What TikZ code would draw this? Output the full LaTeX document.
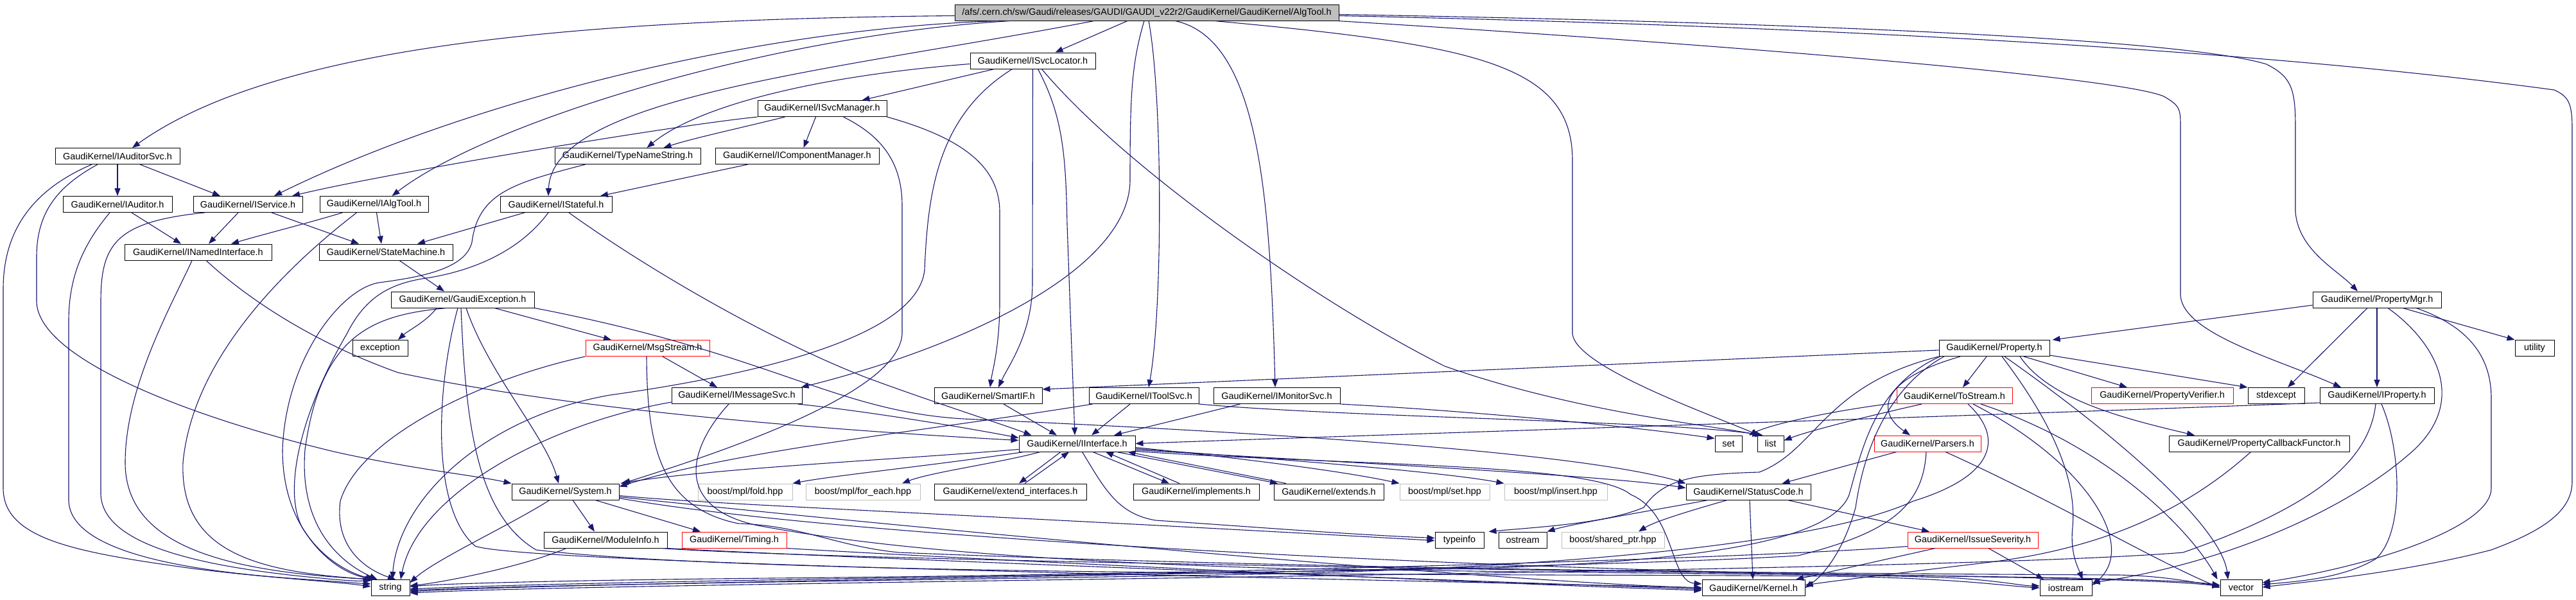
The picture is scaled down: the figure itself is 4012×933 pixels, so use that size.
\documentclass[tikz,border=0pt]{standalone}
\usepackage{fontspec}
\setmainfont{Liberation Sans}
\usetikzlibrary{arrows.meta,calc}
\definecolor{edgec}{HTML}{191970}
\definecolor{rootfill}{HTML}{BFBFBF}
\definecolor{boostc}{HTML}{BFBFBF}
\definecolor{redc}{HTML}{FF0000}
\begin{document}
\begin{tikzpicture}[x=0.5pt,y=-0.5pt,
  bx/.style={draw=black, line width=0.5pt, minimum height=12.5pt, inner sep=0pt, font=\fontsize{7.2pt}{8.6pt}\selectfont, text=black},
  rbx/.style={bx, draw=redc},
  gbx/.style={bx, draw=boostc},
  ed/.style={draw=edgec, line width=0.55pt, -{Triangle[length=6pt,width=4.5pt]}},
]
\useasboundingbox (0,0) rectangle (4012,933);
\fill[white] (0,0) rectangle (4012,933);

% ---------------- nodes ----------------
\node[bx,fill=rootfill,minimum width=299pt] (root) at (1786,19.5) {/afs/.cern.ch/sw/Gaudi/releases/GAUDI/GAUDI\_v22r2/GaudiKernel/GaudiKernel/AlgTool.h};
\node[bx,minimum width=97.5pt] (ISvcLocator) at (1608.5,94.5) {GaudiKernel/ISvcLocator.h};
\node[bx,minimum width=100.5pt] (ISvcManager) at (1280.5,169) {GaudiKernel/ISvcManager.h};
\node[bx,minimum width=97pt] (IAuditorSvc) at (183,243) {GaudiKernel/IAuditorSvc.h};
\node[bx,minimum width=113.5pt] (TypeNameString) at (977.5,243) {GaudiKernel/TypeNameString.h};
\node[bx,minimum width=127.5pt] (IComponentManager) at (1241.5,243) {GaudiKernel/IComponentManager.h};
\node[bx,minimum width=85pt] (IAuditor) at (183,318) {GaudiKernel/IAuditor.h};
\node[bx,minimum width=85pt] (IService) at (386,318) {GaudiKernel/IService.h};
\node[bx,minimum width=84.5pt] (IAlgTool) at (582.5,318) {GaudiKernel/IAlgTool.h};
\node[bx,minimum width=87pt] (IStateful) at (866,318) {GaudiKernel/IStateful.h};
\node[bx,minimum width=114.5pt] (INamedInterface) at (308.5,392.5) {GaudiKernel/INamedInterface.h};
\node[bx,minimum width=104pt] (StateMachine) at (601,392.5) {GaudiKernel/StateMachine.h};
\node[bx,minimum width=111.5pt] (GaudiException) at (720.5,466.5) {GaudiKernel/GaudiException.h};
\node[bx,minimum width=100pt] (PropertyMgr) at (3702,466.5) {GaudiKernel/PropertyMgr.h};
\node[bx,minimum width=43pt] (exception) at (592,542) {exception};
\node[rbx,minimum width=96.5pt] (MsgStream) at (1008.5,542) {GaudiKernel/MsgStream.h};
\node[bx,minimum width=86pt] (Property) at (3106,542) {GaudiKernel/Property.h};
\node[bx,minimum width=30.5pt] (utility) at (3947.5,542) {utility};
\node[bx,minimum width=101.5pt] (IMessageSvc) at (1147.5,616) {GaudiKernel/IMessageSvc.h};
\node[bx,minimum width=84pt] (SmartIF) at (1539,616) {GaudiKernel/SmartIF.h};
\node[bx,minimum width=85.5pt] (IToolSvc) at (1781.5,616) {GaudiKernel/IToolSvc.h};
\node[bx,minimum width=98.5pt] (IMonitorSvc) at (1988.5,616) {GaudiKernel/IMonitorSvc.h};
\node[rbx,minimum width=90pt] (ToStream) at (3044,616) {GaudiKernel/ToStream.h};
\node[rbx,minimum width=110.5pt] (PropertyVerifier) at (3367.5,616) {GaudiKernel/PropertyVerifier.h};
\node[bx,minimum width=44pt] (stdexcept) at (3545,616) {stdexcept};
\node[bx,minimum width=89pt] (IProperty) at (3702,616) {GaudiKernel/IProperty.h};
\node[bx,minimum width=90.5pt] (IInterface) at (1677.5,690.5) {GaudiKernel/IInterface.h};
\node[bx,minimum width=21pt] (set) at (2692,690.5) {set};
\node[bx,minimum width=20.5pt] (list) at (2757.5,690.5) {list};
\node[rbx,minimum width=83pt] (Parsers) at (3002,690.5) {GaudiKernel/Parsers.h};
\node[bx,minimum width=140.5pt] (PCF) at (3518.5,690.5) {GaudiKernel/PropertyCallbackFunctor.h};
\node[bx,minimum width=83.5pt] (System) at (880.5,765.5) {GaudiKernel/System.h};
\node[gbx,minimum width=73.5pt] (fold) at (1160.5,765.5) {boost/mpl/fold.hpp};
\node[gbx,minimum width=89pt] (forEach) at (1344,765.5) {boost/mpl/for\_each.hpp};
\node[bx,minimum width=118.5pt] (extIf) at (1573.5,765.5) {GaudiKernel/extend\_interfaces.h};
\node[bx,minimum width=98pt] (implements) at (1863,765.5) {GaudiKernel/implements.h};
\node[bx,minimum width=85.5pt] (extends) at (2069.5,765.5) {GaudiKernel/extends.h};
\node[gbx,minimum width=70pt] (setHpp) at (2250,765.5) {boost/mpl/set.hpp};
\node[gbx,minimum width=80pt] (insert) at (2423,765.5) {boost/mpl/insert.hpp};
\node[bx,minimum width=97pt] (StatusCode) at (2723,765.5) {GaudiKernel/StatusCode.h};
\node[bx,minimum width=96pt] (ModuleInfo) at (943,840.5) {GaudiKernel/ModuleInfo.h};
\node[rbx,minimum width=81.5pt] (Timing) at (1143.5,840.5) {GaudiKernel/Timing.h};
\node[bx,minimum width=38pt] (typeinfo) at (2273,840.5) {typeinfo};
\node[bx,minimum width=37.5pt] (ostream) at (2371.5,840.5) {ostream};
\node[gbx,minimum width=80pt] (shptr) at (2512,840.5) {boost/shared\_ptr.hpp};
\node[rbx,minimum width=101.5pt] (IssueSeverity) at (3072.5,840.5) {GaudiKernel/IssueSeverity.h};
\node[bx,minimum width=30pt] (string) at (608,915) {string};
\node[bx,minimum width=80pt] (Kernel) at (2731,915) {GaudiKernel/Kernel.h};
\node[bx,minimum width=40.5pt] (iostream) at (3217.5,915) {iostream};
\node[bx,minimum width=32.5pt] (vector) at (3490.5,915) {vector};

% ---------------- root ----------------
\draw[ed] ($(root.west)+(0,5)$) .. controls (900,30) and (430,70) .. ($(IAuditorSvc.north)+(23,0)$);
\draw[ed] ($(root.south)+(-229,0)$) .. controls (1150,45) and (700,170) .. ($(IService.north)+(41,0)$);
\draw[ed] ($(root.south)+(-212,0)$) .. controls (1200,55) and (760,190) .. ($(IAlgTool.north)+(28,0)$);
\draw[ed] ($(root.south)+(-82,0)$) .. controls (1300,110) and (860,150) .. ($(IStateful.north)+(-12,0)$);
\draw[ed] ($(root.south)+(-30,0)$) -- ($(ISvcLocator.north)+(35,0)$);
\draw[ed] ($(root.south)+(-4,0)$) .. controls (1762,100) and (1760,150) .. (1760,280) .. controls (1760,420) and (1500,540) .. ($(IMessageSvc.north east)+(-2,0)$);
\draw[ed] ($(root.south)+(3,0)$) .. controls (1811,150) and (1811,480) .. ($(IToolSvc.north)+(7.5,0)$);
\draw[ed] ($(root.south)+(44,0)$) .. controls (1960,60) and (1978,300) .. ($(IMonitorSvc.north)+(-2.5,0)$);
\draw[ed] ($(root.south)+(105,0)$) .. controls (2300,70) and (2449,100) .. (2449,250) -- (2449,520) .. controls (2455,570) and (2650,640) .. ($(list.north)+(-18,0)$);
\draw[ed] ($(root.south east)+(-3,0)$) .. controls (2700,70) and (3300,120) .. (3370,150) .. controls (3396,165) and (3396,170) .. (3396,200) -- (3396,460) .. controls (3400,520) and (3550,560) .. ($(IProperty.north)+(-56,0)$);
\draw[ed] ($(root.east)+(0,3)$) .. controls (2800,35) and (3400,60) .. (3530,100) .. controls (3570,120) and (3575,140) .. (3575,200) -- (3575,330) .. controls (3580,390) and (3640,420) .. ($(PropertyMgr.north)+(-30,0)$);
\draw[ed] ($(root.east)+(0,5)$) .. controls (2800,40) and (3500,75) .. (3978,140) .. controls (4000,150) and (4006,160) .. (4006,200) -- (4006,750) .. controls (4006,800) and (3950,830) .. (3880,856) .. controls (3750,890) and (3600,905) .. ($(vector.east)+(0,-1)$);

% ---------------- ISvcLocator ----------------
\draw[ed] ($(ISvcLocator.south)+(-60,0)$) -- ($(ISvcManager.north east)+(-39,0)$);
\draw[ed] ($(ISvcLocator.west)+(0,5)$) .. controls (1250,120) and (1080,170) .. ($(TypeNameString.north)+(30,0)$);
\draw[ed] ($(ISvcLocator.south)+(-32,0)$) .. controls (1460,180) and (1445,300) .. (1440,420) .. controls (1430,520) and (1200,580) .. (950,615) .. controls (750,650) and (620,780) .. ($(string.north)+(3,0)$);
\draw[ed] (ISvcLocator.south) -- (1608,440) .. controls (1608,520) and (1570,570) .. ($(SmartIF.north)+(16,0)$);
\draw[ed] ($(ISvcLocator.south)+(8,0)$) .. controls (1655,180) and (1660,240) .. (1662,350) -- ($(IInterface.north)+(-3.5,0)$);
\draw[ed] ($(ISvcLocator.south)+(14,0)$) .. controls (1750,260) and (2050,470) .. (2250,570) .. controls (2450,640) and (2650,660) .. ($(list.north)+(-16,0)$);

% ---------------- ISvcManager ----------------
\draw[ed] (ISvcManager.south west) .. controls (1050,195) and (600,270) .. ($(IService.north)+(69,0)$);
\draw[ed] ($(ISvcManager.south)+(-58,0)$) .. controls (1150,200) and (1080,215) .. ($(TypeNameString.north)+(56,0)$);
\draw[ed] ($(ISvcManager.south)+(-10,0)$) -- ($(IComponentManager.north)+(10,0)$);
\draw[ed] ($(ISvcManager.south)+(33,0)$) .. controls (1370,210) and (1405,250) .. (1405,320) -- (1405,520) .. controls (1400,600) and (1200,680) .. ($(System.north east)+(5,0)$);
\draw[ed] (ISvcManager.south east) .. controls (1500,215) and (1557,260) .. (1557,330) -- (1557,470) .. controls (1557,540) and (1545,580) .. ($(SmartIF.north)+(3,0)$);
\draw[ed] ($(IComponentManager.south)+(-77,0)$) -- ($(IStateful.north)+(69,0)$);

% ---------------- TypeNameString / IStateful ----------------
\draw[ed] ($(TypeNameString.south)+(-66,0)$) .. controls (800,285) and (745,300) .. (735,377) .. controls (725,420) and (650,432) .. (590,440) .. controls (530,450) and (445,560) .. (440,700) .. controls (440,830) and (520,885) .. ($(string.north west)+(4,0)$);
\draw[ed] ($(IStateful.south)+(-12,0)$) .. controls (810,390) and (740,420) .. (670,432) .. controls (610,440) and (570,460) .. (540,520) .. controls (470,640) and (440,760) .. (470,820) .. controls (500,870) and (540,895) .. ($(string.north west)+(8,0)$);
\draw[ed] ($(IStateful.south)+(-49,0)$) -- ($(StateMachine.north)+(49,0)$);
\draw[ed] ($(IStateful.south)+(20,0)$) .. controls (1010,420) and (1200,530) .. (1350,588) .. controls (1450,625) and (1560,660) .. ($(IInterface.north west)+(20,0)$);

% ---------------- IAuditorSvc / IAuditor / IService / IAlgTool ----------------
\draw[ed] (IAuditorSvc) -- (IAuditor);
\draw[ed] ($(IAuditorSvc.south)+(35,0)$) -- ($(IService.north)+(-43,0)$);
\draw[ed] ($(IAuditorSvc.south)+(-40,0)$) .. controls (40,300) and (5,370) .. (5,450) -- (5,760) .. controls (5,840) and (120,860) .. (300,885) .. controls (420,900) and (520,905) .. ($(string.west)+(0,-2)$);
\draw[ed] ($(IAuditorSvc.south)+(-31,0)$) .. controls (90,290) and (57,330) .. (57,400) -- (57,470) .. controls (60,560) and (300,650) .. (520,703) .. controls (640,730) and (740,740) .. (System.north west);
\draw[ed] ($(IAuditor.south)+(22,0)$) -- ($(INamedInterface.north)+(-26.5,0)$);
\draw[ed] ($(IAuditor.south)+(-12,0)$) .. controls (130,380) and (107,430) .. (107,500) -- (107,780) .. controls (110,850) and (250,885) .. (450,900) .. controls (520,905) and (560,908) .. ($(string.west)+(0,-6)$);
\draw[ed] ($(IService.south)+(-15,0)$) -- ($(INamedInterface.north)+(16.5,0)$);
\draw[ed] ($(IService.south)+(37,0)$) -- ($(StateMachine.north)+(-42,0)$);
\draw[ed] ($(IService.south)+(-67,0)$) .. controls (180,345) and (157,380) .. (157,470) -- (157,770) .. controls (160,840) and (280,880) .. (500,900) .. controls (540,904) and (560,905) .. (string.north west);
\draw[ed] ($(IAlgTool.south)+(-49,0)$) .. controls (470,350) and (420,362) .. ($(INamedInterface.north)+(51.5,0)$);
\draw[ed] ($(IAlgTool.south)+(4,0)$) -- ($(StateMachine.north)+(-7,0)$);
\draw[ed] ($(IAlgTool.south)+(-27,0)$) .. controls (440,420) and (300,560) .. (285,720) .. controls (280,860) and (400,890) .. ($(string.north west)+(2,0)$);

% ---------------- INamedInterface / StateMachine ----------------
\draw[ed] ($(INamedInterface.south)+(-9.5,0)$) .. controls (270,470) and (195,600) .. (195,720) .. controls (195,850) and (350,890) .. ($(string.north west)+(6,0)$);
\draw[ed] ($(INamedInterface.south)+(12.5,0)$) .. controls (380,460) and (480,530) .. (620,580) .. controls (900,640) and (1300,670) .. ($(IInterface.west)+(0,-5)$);
\draw[ed] ($(StateMachine.south)+(21,0)$) -- ($(GaudiException.north)+(-28.5,0)$);

% ---------------- GaudiException ----------------
\draw[ed] ($(GaudiException.south)+(-40.5,0)$) .. controls (665,500) and (635,515) .. ($(exception.north)+(28,0)$);
\draw[ed] ($(GaudiException.south)+(49.5,0)$) -- ($(MsgStream.north)+(-56.5,0)$);
\draw[ed] ($(GaudiException.south)+(5.5,0)$) .. controls (760,580) and (850,680) .. ($(System.north)+(-10.5,0)$);
\draw[ed] ($(GaudiException.south)+(-24.5,0)$) .. controls (580,490) and (500,520) .. (475,700) .. controls (465,830) and (540,880) .. ($(string.north west)+(10,0)$);
\draw[ed] ($(GaudiException.south)+(-7.5,0)$) .. controls (680,600) and (670,790) .. (740,850) .. controls (820,880) and (2300,905) .. (Kernel.west);
\draw[ed] ($(GaudiException.south)+(-2.5,0)$) .. controls (725,650) and (740,800) .. (835,856) .. controls (1200,900) and (2500,893) .. (2850,897) .. controls (3050,900) and (3120,912) .. (iostream.west);
\draw[ed] (GaudiException.south east) .. controls (1200,550) and (1300,640) .. (1500,652) .. controls (1900,670) and (2450,700) .. (StatusCode.north west);

% ---------------- MsgStream / IMessageSvc ----------------
\draw[ed] ($(MsgStream.south)+(23.5,0)$) -- ($(IMessageSvc.north)+(-30.5,0)$);
\draw[ed] (MsgStream.south west) .. controls (750,590) and (560,680) .. (530,780) .. controls (520,860) and (580,890) .. ($(string.north)+(8,0)$);
\draw[ed] ($(MsgStream.south)+(-1.5,0)$) .. controls (1008,700) and (1030,790) .. (1150,815) .. controls (1250,818) and (1300,850) .. (1400,860) .. controls (2000,885) and (2800,893) .. (3300,895) .. controls (3380,897) and (3420,908) .. ($(vector.west)+(0,-4)$);
\draw[ed] ($(IMessageSvc.south east)+(-7,0)$) .. controls (1350,640) and (1500,665) .. ($(IInterface.west)+(0,-9)$);
\draw[ed] ($(IMessageSvc.south west)+(0,-3)$) .. controls (850,660) and (650,770) .. ($(string.north)+(16,0)$);
\draw[ed] ($(IMessageSvc.south)+(-12.5,0)$) .. controls (1070,700) and (1050,790) .. (1180,818) .. controls (1300,840) and (1500,870) .. (2000,885) .. controls (2500,893) and (2900,893) .. (3050,900) .. controls (3120,905) and (3150,912) .. ($(iostream.west)+(0,-3)$);

% ---------------- SmartIF / IToolSvc / IMonitorSvc ----------------
\draw[ed] ($(SmartIF.south)+(24,0)$) -- ($(IInterface.north)+(-31.5,0)$);
\draw[ed] ($(IToolSvc.south)+(-21.5,0)$) -- ($(IInterface.north)+(22.5,0)$);
\draw[ed] ($(IToolSvc.south west)+(6,0)$) .. controls (1450,670) and (1150,700) .. ($(System.east)+(0,-8)$);
\draw[ed] (IToolSvc.south east) .. controls (2100,650) and (2600,655) .. ($(list.north)+(-12,0)$);
\draw[ed] ($(IMonitorSvc.south west)+(42,0)$) -- ($(IInterface.north)+(57.5,0)$);
\draw[ed] (IMonitorSvc.south east) .. controls (2300,640) and (2550,665) .. ($(set.west)+(0,-8)$);

% ---------------- IInterface ----------------
\draw[ed] ($(IInterface.south west)+(0,-4)$) .. controls (1400,715) and (1100,730) .. ($(System.north east)+(2,0)$);
\draw[ed] ($(IInterface.south west)+(8,0)$) .. controls (1450,725) and (1300,740) .. (fold.north east);
\draw[ed] ($(IInterface.south)+(-57.5,0)$) .. controls (1560,720) and (1450,735) .. ($(forEach.north)+(61,0)$);
\draw[ed] ($(IInterface.south)+(-25.5,0)$) -- ($(extIf.north)+(13.5,0)$);
\draw[ed] ($(extIf.north)+(22.5,0)$) -- ($(IInterface.south)+(-12.5,0)$);
\draw[ed] ($(IInterface.south)+(24.5,0)$) -- ($(implements.north)+(-42,0)$);
\draw[ed] ($(implements.north)+(-26,0)$) -- ($(IInterface.south)+(44.5,0)$);
\draw[ed] ($(IInterface.south)+(61.5,0)$) -- ($(extends.north)+(-79.5,0)$);
\draw[ed] ($(extends.north)+(-66.5,0)$) -- ($(IInterface.south east)+(-12,0)$);
\draw[ed] ($(IInterface.east)+(0,6)$) .. controls (1950,715) and (2100,735) .. (setHpp.north west);
\draw[ed] ($(IInterface.east)+(0,8)$) .. controls (2000,715) and (2250,735) .. (insert.north west);
\draw[ed] ($(IInterface.east)+(0,10)$) .. controls (2100,720) and (2500,740) .. ($(StatusCode.west)+(0,-6)$);
\draw[ed] ($(IInterface.south)+(8,0)$) .. controls (1720,760) and (1740,800) .. (1800,810) .. controls (1950,820) and (2100,832) .. ($(typeinfo.west)+(0,-3)$);
\draw[ed] ($(IInterface.east)+(0,12)$) .. controls (2100,725) and (2480,720) .. (2540,770) .. controls (2610,800) and (2600,905) .. ($(Kernel.west)+(0,-6)$);

% ---------------- StatusCode / IssueSeverity ----------------
\draw[ed] ($(StatusCode.south)+(-63,0)$) .. controls (2600,790) and (2450,815) .. (ostream.north east);
\draw[ed] ($(StatusCode.south)+(-33,0)$) .. controls (2650,790) and (2580,810) .. ($(shptr.north)+(40,0)$);
\draw[ed] ($(StatusCode.south)+(2,0)$) -- ($(Kernel.north)+(-1,0)$);
\draw[ed] ($(StatusCode.south)+(61,0)$) -- ($(IssueSeverity.north)+(-67.5,0)$);
\draw[ed] ($(IssueSeverity.south)+(-58.5,0)$) -- ($(Kernel.north)+(66,0)$);
\draw[ed] ($(IssueSeverity.south)+(24.5,0)$) -- ($(iostream.north)+(-34.5,0)$);
\draw[ed] ($(IssueSeverity.west)+(0,10)$) .. controls (2800,865) and (2000,893) .. (1200,900) .. controls (900,903) and (700,908) .. ($(string.east)+(0,-2)$);

% ---------------- System / ModuleInfo / Timing ----------------
\draw[ed] ($(System.south)+(11.5,0)$) -- ($(ModuleInfo.north)+(-17,0)$);
\draw[ed] ($(System.south)+(46.5,0)$) -- ($(Timing.north)+(-52.5,0)$);
\draw[ed] ($(System.south)+(-24.5,0)$) .. controls (790,820) and (680,870) .. ($(string.east)+(0,-8)$);
\draw[ed] ($(System.east)+(0,6)$) .. controls (1100,785) and (1500,800) .. ($(typeinfo.west)+(0,1)$);
\draw[ed] ($(System.east)+(0,8)$) .. controls (1300,810) and (2300,905) .. (Kernel.west);
\draw[ed] ($(System.east)+(0,10)$) .. controls (1300,835) and (2200,880) .. (2800,893) .. controls (3100,898) and (3380,900) .. ($(vector.west)+(0,-4)$);
\draw[ed] ($(ModuleInfo.south)+(-61,0)$) .. controls (820,880) and (700,905) .. ($(string.east)+(0,-3)$);
\draw[ed] (ModuleInfo.south east) .. controls (1300,868) and (2300,905) .. ($(Kernel.west)+(0,2)$);
\draw[ed] ($(ModuleInfo.south east)+(-10,0)$) .. controls (1300,872) and (2400,888) .. (2800,893) .. controls (3100,898) and (3380,902) .. ($(vector.west)+(0,-2)$);
\draw[ed] (Timing.south east) .. controls (1500,870) and (2300,908) .. ($(Kernel.west)+(0,4)$);

% ---------------- Property ----------------
\draw[ed] ($(Property.west)+(0,3)$) -- ($(SmartIF.east)+(0,-10)$);
\draw[ed] (Property.south west) .. controls (2840,600) and (2830,700) .. (2740,735) .. controls (2640,738) and (2590,745) .. (2560,790) .. controls (2500,815) and (2400,820) .. ($(typeinfo.north east)+(7,0)$);
\draw[ed] ($(Property.south)+(-53,0)$) .. controls (2930,590) and (2920,640) .. ($(Parsers.north)+(-27,0)$);
\draw[ed] ($(Property.south)+(-12,0)$) -- ($(ToStream.north)+(13,0)$);
\draw[ed] ($(Property.south)+(46,0)$) -- ($(PropertyVerifier.north)+(-54.5,0)$);
\draw[ed] ($(Property.south east)+(0,-2)$) -- (stdexcept.north west);
\draw[ed] ($(Property.south)+(40,0)$) .. controls (3190,620) and (3300,650) .. ($(PCF.north)+(-100.5,0)$);
\draw[ed] ($(Property.south)+(12,0)$) .. controls (3190,650) and (3235,740) .. (3228,820) .. controls (3224,860) and (3235,880) .. ($(iostream.north)+(26,0)$);
\draw[ed] ($(Property.south)+(16,0)$) .. controls (3300,680) and (3460,820) .. ($(vector.north)+(-20.5,0)$);
\draw[ed] ($(Property.south west)+(2,0)$) .. controls (2920,600) and (2900,700) .. (2880,770) .. controls (2850,850) and (2600,875) .. (2300,885) .. controls (1600,897) and (900,905) .. ($(string.east)+(0,2)$);
\draw[ed] ($(Property.south west)+(8,0)$) .. controls (2930,610) and (2900,720) .. (2890,790) .. controls (2870,860) and (2840,895) .. (Kernel.east);

% ---------------- ToStream / Parsers ----------------
\draw[ed] ($(ToStream.south west)+(0,-2)$) .. controls (2850,640) and (2760,660) .. ($(set.north east)+(10,0)$);
\draw[ed] ($(ToStream.south)+(-51,0)$) .. controls (2900,650) and (2820,670) .. ($(list.east)+(0,-5)$);
\draw[ed] ($(ToStream.south)+(21,0)$) .. controls (3120,680) and (3110,740) .. (2980,780) .. controls (2850,840) and (2500,880) .. (2000,893) .. controls (1500,903) and (900,908) .. ($(string.east)+(0,4)$);
\draw[ed] ($(ToStream.south)+(29,0)$) .. controls (3250,720) and (3330,850) .. ($(iostream.east)+(0,-4)$);
\draw[ed] ($(ToStream.south)+(41,0)$) .. controls (3300,700) and (3420,840) .. ($(vector.north)+(-37,0)$);
\draw[ed] ($(Parsers.south west)+(35,0)$) -- ($(StatusCode.north east)+(-45,0)$);
\draw[ed] ($(Parsers.south)+(-2,0)$) .. controls (2995,790) and (2940,830) .. (2800,865) .. controls (2400,890) and (900,905) .. ($(string.east)+(0,6)$);
\draw[ed] ($(Parsers.south)+(28,0)$) .. controls (3200,780) and (3350,870) .. ($(vector.west)+(0,0)$);

% ---------------- PropertyMgr ----------------
\draw[ed] ($(PropertyMgr.west)+(0,8.5)$) -- ($(Property.north east)+(4,0)$);
\draw[ed] ($(PropertyMgr.south)+(-15,0)$) -- ($(stdexcept.north)+(18,0)$);
\draw[ed] (PropertyMgr.south) -- (IProperty.north);
\draw[ed] ($(PropertyMgr.south)+(40,0)$) -- (utility.north west);
\draw[ed] ($(PropertyMgr.south)+(61,0)$) .. controls (3850,510) and (3880,560) .. (3880,620) -- (3880,760) .. controls (3880,820) and (3700,880) .. ($(vector.east)+(0,-8)$);
\draw[ed] ($(PropertyMgr.south)+(17,0)$) .. controls (3790,530) and (3845,620) .. (3760,700) .. controls (3650,800) and (3450,880) .. ($(iostream.east)+(0,-8)$);

% ---------------- IProperty / PCF ----------------
\draw[ed] ($(IProperty.south west)+(0,-2)$) .. controls (3000,650) and (2200,675) .. (IInterface.east);
\draw[ed] ($(IProperty.south)+(-2,0)$) .. controls (3690,720) and (3600,790) .. (3400,860) .. controls (3000,893) and (1000,905) .. ($(string.east)+(0,8)$);
\draw[ed] ($(IProperty.south)+(7,0)$) .. controls (3740,700) and (3745,830) .. (3700,870) .. controls (3650,900) and (3580,905) .. ($(vector.east)+(0,-5)$);
\draw[ed] ($(PCF.south)+(-13,0)$) .. controls (3420,780) and (3300,850) .. (3100,875) .. controls (2950,893) and (2850,905) .. ($(Kernel.east)+(0,-4)$);
\end{tikzpicture}
\end{document}
